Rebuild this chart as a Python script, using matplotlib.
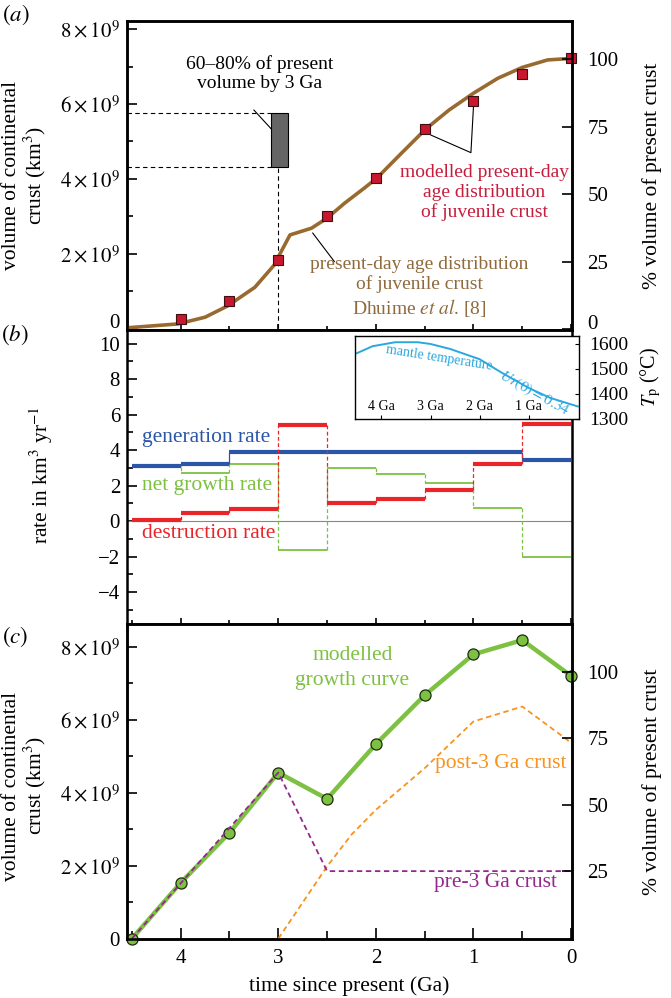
import matplotlib.pyplot as plt
from matplotlib.ticker import MultipleLocator, FuncFormatter
import numpy as np

plt.rcParams['font.family'] = ['Liberation Serif', 'DejaVu Serif']
plt.rcParams['mathtext.fontset'] = 'stix'
plt.rcParams['font.size'] = 15.5

# (a) crust volume in 1e9 km^3
ga_curve = [4.55, 4.53, 4.03, 3.75, 3.52, 3.24, 3.04, 2.99, 2.88, 2.66, 2.5, 2.32,
            2.12, 1.99, 1.74, 1.49, 1.25, 1.0, 0.75, 0.5, 0.24, 0.0]
vol_curve = [0.0, 0.02, 0.12, 0.30, 0.60, 1.10, 1.70, 1.96, 2.50, 2.68, 2.95, 3.35,
             3.75, 4.02, 4.68, 5.33, 5.84, 6.29, 6.69, 6.98, 7.18, 7.22]
ga_model = [4.0, 3.5, 3.0, 2.5, 2.0, 1.5, 1.0, 0.5, 0.0]
vol_model = [0.25, 0.72, 1.83, 3.01, 4.02, 5.33, 6.08, 6.80, 7.22]
present_vol = 7.2
band_frac = [0.6, 0.8]
vol_ticks = [0, 2, 4, 6, 8]

# (b) rates in km^3/yr, stepwise over 0.5 Ga bins
step_edges = [4.5, 4.0, 3.5, 3.0, 2.5, 2.0, 1.5, 1.0, 0.5, 0.0]
gen_rate = [3.10, 3.21, 3.90, 3.90, 3.90, 3.90, 3.90, 3.90, 3.44]
net_rate = [3.02, 2.69, 3.21, -1.63, 3.00, 2.63, 2.16, 0.71, -2.05]
destr_rate = [0.06, 0.47, 0.66, 5.41, 1.00, 1.24, 1.75, 3.21, 5.45]

# inset: mantle temperature
ga_temp = [4.5, 4.18, 3.72, 3.26, 3.0, 2.6, 2.0, 1.55, 1.0, 0.56, 0.0]
temp = [1563, 1591, 1607, 1607, 1600, 1580, 1539, 1485, 1424, 1384, 1350]
temp_ticks = [1300, 1400, 1500, 1600]
temp_xticks = [4, 3, 2, 1]

# (c) modelled growth
ga_c = [4.5, 4.0, 3.5, 3.0, 2.5, 2.0, 1.5, 1.0, 0.5, 0.0]
growth = [0.0, 1.53, 2.90, 4.55, 3.83, 5.33, 6.67, 7.79, 8.18, 7.20]
ga_pre = [4.5, 3.0, 2.5, 0.0]
pre3 = [0.0, 4.55, 1.85, 1.85]
ga_post = [3.0, 2.5, 2.25, 2.0, 1.5, 1.0, 0.5, 0.0]
post3 = [0.0, 1.98, 2.85, 3.53, 4.67, 5.95, 6.36, 5.37]

brown = '#996a30'
brown_txt = '#8f6a3c'
red_sq = '#c8172f'
red_txt = '#c51d3c'
blue = '#2b56a8'
green = '#7dc142'
red = '#e8262a'
cyan = '#29a8df'
purple = '#93278f'
orange = '#f7931e'


def vol_fmt(v, pos):
    if abs(v) < 1e-6:
        return '0'
    return r'$%d\times10^9$' % round(v)


fig = plt.figure(figsize=(6.71, 9.98), dpi=100)
L, W = 0.1893, 0.6632
ax_a = fig.add_axes([L, 0.6698, W, 0.3095])
ax_b = fig.add_axes([L, 0.3747, W, 0.2951])
ax_c = fig.add_axes([L, 0.0591, W, 0.3156])

for ax in (ax_a, ax_b, ax_c):
    ax.set_xlim(4.55, -0.01)
    ax.xaxis.set_major_locator(MultipleLocator(1))
    ax.xaxis.set_minor_locator(MultipleLocator(0.5))
    ax.yaxis.set_minor_locator(MultipleLocator(1))
    ax.yaxis.set_major_locator(MultipleLocator(2))
    for s in ax.spines.values():
        s.set_linewidth(1.8)
    ax.tick_params(axis='y', which='both', direction='in', right=False, width=1.2, pad=5, labelsize=15)
    ax.tick_params(axis='y', which='major', length=7)
    ax.tick_params(axis='y', which='minor', length=4)

# ---------- (a)
ax_a.set_ylim(-0.03, 8.23)
ax_a.set_yticks(vol_ticks)
ax_a.yaxis.set_major_formatter(FuncFormatter(vol_fmt))
ax_a.tick_params(axis='x', which='both', direction='inout', top=False, labelbottom=False, width=1.2)
ax_a.tick_params(axis='x', which='major', length=9)
ax_a.tick_params(axis='x', which='minor', length=6)

lo, hi = band_frac[0] * present_vol, band_frac[1] * present_vol
ax_a.hlines([lo, hi], 4.55, 3.075, colors='k', lw=0.8, linestyles=(0, (4, 3)))
ax_a.vlines(3.0, 0, lo, colors='k', lw=0.8, linestyles=(0, (4, 3)))
ax_a.bar(2.99, hi - lo, width=0.17, bottom=lo, color='#656565', edgecolor='k', lw=0.8, zorder=3)
ax_a.text(3.19, 6.82, '60–80% of present\nvolume by 3 Ga', ha='center', va='center',
          fontsize=14, linespacing=1.2)
ax_a.plot([3.25, 3.0], [5.84, 5.13], color='k', lw=0.8)

ax_a.plot(ga_curve, vol_curve, color=brown, lw=2.6, zorder=4)
ax_a.plot(ga_model, vol_model, 's', ms=7.5, mfc=red_sq, mec='#3a1010', mew=0.8, zorder=5, clip_on=False)

ax_a.text(1.553, 1.10, 'present-day age distribution\nof juvenile crust\n' + r'Dhuime $et\ al$. [8]',
          ha='center', va='center', color=brown_txt, fontsize=14, linespacing=1.2)
ax_a.plot([2.647, 2.426], [2.55, 1.79], color='k', lw=0.8)

ax_a.text(0.89, 3.63, 'modelled present-day\nage distribution\nof juvenile crust',
          ha='center', va='center', color=red_txt, fontsize=14, linespacing=1.2)
ax_a.plot([1.436, 1.026, 1.0], [5.17, 4.70, 5.93], color='k', lw=0.8)

ax_a.set_ylabel('volume of continental\ncrust (km$^3$)', va='center', linespacing=1.05)
ax_a.yaxis.set_label_coords(-0.229, 0.5)

ax_a2 = ax_a.twinx()
ax_a2.set_ylim(-0.1, 114.3)
ax_a2.set_yticks([0, 25, 50, 75, 100])
ax_a2.tick_params(axis='y', direction='in', length=7, width=1.2, pad=11, labelsize=15)
for s in ax_a2.spines.values():
    s.set_linewidth(1.8)
ax_a2.set_ylabel('% volume of present crust', va='center')
ax_a2.yaxis.set_label_coords(1.179, 0.497)

# lift the two "0" labels of (a) a little, as in the original
ax_a.yaxis.get_major_ticks()[0].label1.set_va('baseline')
ax_a2.yaxis.get_major_ticks()[0].label2.set_va('baseline')

# ---------- (b)
ax_b.set_ylim(-5.8, 10.79)
ax_b.tick_params(axis='x', which='both', direction='inout', top=False, labelbottom=False, width=1.2)
ax_b.tick_params(axis='x', which='major', length=9)
ax_b.tick_params(axis='x', which='minor', length=6)
ax_b.axhline(0, color='#888888', lw=0.8)

edges = np.array(step_edges)
for vals, col, lw, ls in [(net_rate, green, 1.3, (0, (3, 2))),
                          (gen_rate, blue, 3.0, '-'),
                          (destr_rate, red, 3.0, (0, (3, 2)))]:
    vals = np.array(vals)
    ax_b.hlines(vals, edges[:-1], edges[1:], colors=col, lw=lw)
    ax_b.vlines(edges[1:-1], vals[:-1], vals[1:], colors=col, lw=0.9, linestyles=ls)

ax_b.text(3.74, 4.72, 'generation rate', color=blue, ha='center', va='center')
ax_b.text(3.73, 2.03, 'net growth rate', color=green, ha='center', va='center')
ax_b.text(3.71, -0.69, 'destruction rate', color=red, ha='center', va='center')
ax_b.set_ylabel('rate in km$^3$ yr$^{-1}$', va='center')
ax_b.yaxis.set_label_coords(-0.193, 0.506)

# inset
ax_in = fig.add_axes([0.5296, 0.5802, 0.3338, 0.0834])
ax_in.plot(ga_temp, temp, color=cyan, lw=1.4)
ax_in.set_xlim(4.53, -0.03)
ax_in.set_ylim(1300, 1633)
ax_in.yaxis.tick_right()
ax_in.set_yticks(temp_ticks)
ax_in.set_xticks(temp_xticks)
ax_in.set_xticklabels(['%d Ga' % g for g in temp_xticks])
ax_in.tick_params(axis='x', direction='in', length=3, labelsize=10, pad=-14)
ax_in.tick_params(axis='y', direction='in', length=3, labelsize=14, pad=7)
for s in ax_in.spines.values():
    s.set_linewidth(1.0)
ax_in.text(2.82, 1545, 'mantle temperature', color=cyan, fontsize=10, rotation=-9, ha='center', va='center')
ax_in.text(0.88, 1402, r'$Ur(0)=0.34$', color=cyan, fontsize=11, rotation=-29, ha='center', va='center')
fig.text(651 / 671, 1 - 377 / 998, r'$T_{\rm p}$ (°C)', rotation=90, ha='center', va='center', fontsize=14.5)

# ---------- (c)
ax_c.set_ylim(-0.01, 8.62)
ax_c.set_yticks(vol_ticks)
ax_c.yaxis.set_major_formatter(FuncFormatter(vol_fmt))
ax_c.tick_params(axis='x', which='both', direction='in', top=False, width=1.2, pad=7, labelsize=15)
ax_c.tick_params(axis='x', which='major', length=8)
ax_c.tick_params(axis='x', which='minor', length=6)

ax_c.plot(ga_post, post3, color=orange, lw=1.3, ls=(0, (3, 2)), zorder=3)
ax_c.plot(ga_c, growth, '-o', color=green, lw=3.2, ms=8, mfc=green, mec='#1d2a10', mew=0.9,
          zorder=4, clip_on=False)
ax_c.plot(ga_pre, pre3, color=purple, lw=1.3, ls=(0, (3, 2)), zorder=5)

ax_c.text(2.24, 7.41, 'modelled\ngrowth curve', color=green, ha='center', va='center', linespacing=1.4)
ax_c.text(0.72, 4.81, 'post-3 Ga crust', color=orange, ha='center', va='center')
ax_c.text(0.77, 1.53, 'pre-3 Ga crust', color=purple, ha='center', va='center')

ax_c.set_xlabel('time since present (Ga)', labelpad=6)
ax_c.set_ylabel('volume of continental\ncrust (km$^3$)', va='center', linespacing=1.05)
ax_c.yaxis.set_label_coords(-0.229, 0.486)

ax_c2 = ax_c.twinx()
ax_c2.set_ylim(-0.7, 118.1)
ax_c2.set_yticks([25, 50, 75, 100])
ax_c2.tick_params(axis='y', direction='in', length=7, width=1.2, pad=11, labelsize=15)
for s in ax_c2.spines.values():
    s.set_linewidth(1.8)
ax_c2.set_ylabel('% volume of present crust', va='center')
ax_c2.yaxis.set_label_coords(1.179, 0.5)

# panel letters
fig.text(0.024, 1 - 15 / 998, r'$(a)$', fontsize=16.5, ha='center', va='center')
fig.text(0.022, 1 - 335 / 998, r'$(b)$', fontsize=16.5, ha='center', va='center')
fig.text(0.022, 1 - 637 / 998, r'$(c)$', fontsize=16.5, ha='center', va='center')

fig.savefig('out.png', dpi=100)
